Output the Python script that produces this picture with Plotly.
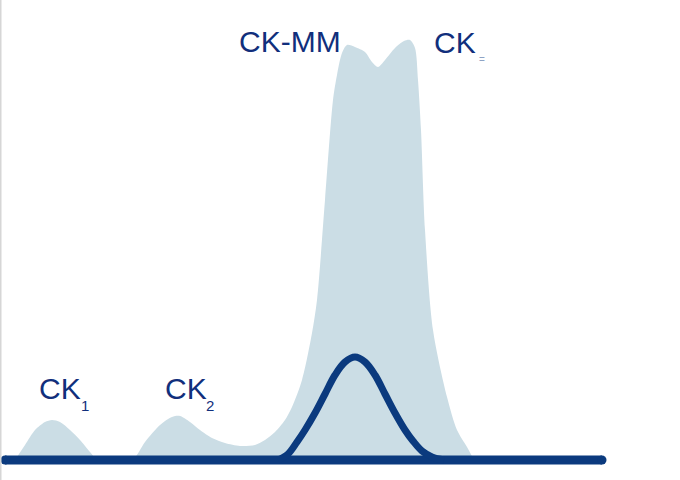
import plotly.graph_objects as go

# Electrophoresis profile (position along the strip, relative intensity)
profile_x = [15, 25, 35, 45, 52, 60, 70, 80, 90, 98,
             132, 145, 160, 172, 180, 190, 200, 212, 225, 240, 255, 265, 275, 285, 292, 302,
             312, 317, 325, 333, 337, 342, 347, 355, 365, 372, 378, 385, 395, 404, 410, 415,
             418, 421, 425, 433, 447, 457, 467, 474]
profile_y = [0, 15, 30, 38, 40, 38, 30, 20, 8, 0,
             0, 18, 35, 43, 44, 38, 30, 22, 17, 14, 15, 20, 28, 40, 53, 80,
             127, 160, 260, 360, 385, 407, 415, 413, 408, 398, 393, 400, 412, 419, 420, 412,
             380, 330, 230, 130, 63, 30, 13, 0]

# CK-MB reference curve
ref_x = [278, 288, 297, 305, 315, 325, 335, 345, 355, 365, 375, 385, 395, 405, 413, 422, 432, 444]
ref_y = [0, 6, 18, 30, 47, 66, 85, 98, 103, 98, 85, 66, 47, 30, 19, 9, 3, 0]

# Baseline
base_x = [5, 602]
base_y = [0, 0]

labels = ["CK", "CK", "CK-MM", "CK"]
label_x = [37, 163, 237, 432]
label_y = [71.5, 71.5, 418.5, 417.5]

subs = ["1", "2", "="]
sub_x = [79, 204, 477]
sub_y = [54.5, 54.5, 400.5]
sub_size = [15, 15, 10]
sub_color = ["#112f7c", "#112f7c", "#8fa3c4"]

fill_color = "#cbdde5"
navy = "#0b3a7e"
text_color = "#112f7c"

fig = go.Figure()
fig.add_trace(go.Scatter(x=profile_x, y=profile_y, mode="lines", fill="tozeroy",
                         fillcolor=fill_color, line=dict(width=0, shape="spline", smoothing=0.8),
                         hoverinfo="skip"))
fig.add_trace(go.Scatter(x=base_x, y=base_y, mode="lines+markers",
                         line=dict(color=navy, width=9),
                         marker=dict(color=navy, size=9, line=dict(width=0)),
                         hoverinfo="skip"))
fig.add_trace(go.Scatter(x=ref_x, y=ref_y, mode="lines",
                         line=dict(color=navy, width=7, shape="spline", smoothing=1.0),
                         hoverinfo="skip"))

for t, x, y in zip(labels, label_x, label_y):
    fig.add_annotation(x=x, y=y, text=t, showarrow=False, xanchor="left", yanchor="middle",
                       font=dict(family="Liberation Sans, Arial", size=30, color=text_color))
for t, x, y, s, c in zip(subs, sub_x, sub_y, sub_size, sub_color):
    fig.add_annotation(x=x, y=y, text=t, showarrow=False, xanchor="left", yanchor="middle",
                       font=dict(family="Liberation Sans, Arial", size=s, color=c))

# faint frame line on the left edge
fig.add_shape(type="line", xref="paper", yref="paper", x0=0, x1=0, y0=0, y1=1,
              line=dict(color="#d6d6d6", width=3), layer="above")

fig.update_layout(
    width=680, height=480, margin=dict(l=0, r=0, t=0, b=0),
    paper_bgcolor="white", plot_bgcolor="white", showlegend=False,
    xaxis=dict(range=[0, 680], visible=False, fixedrange=True),
    yaxis=dict(range=[-20, 460], visible=False, fixedrange=True),
)
fig.write_html("out.html", config={"displayModeBar": False},
               post_script="document.body.style.margin='0';document.body.style.overflow='hidden';")
